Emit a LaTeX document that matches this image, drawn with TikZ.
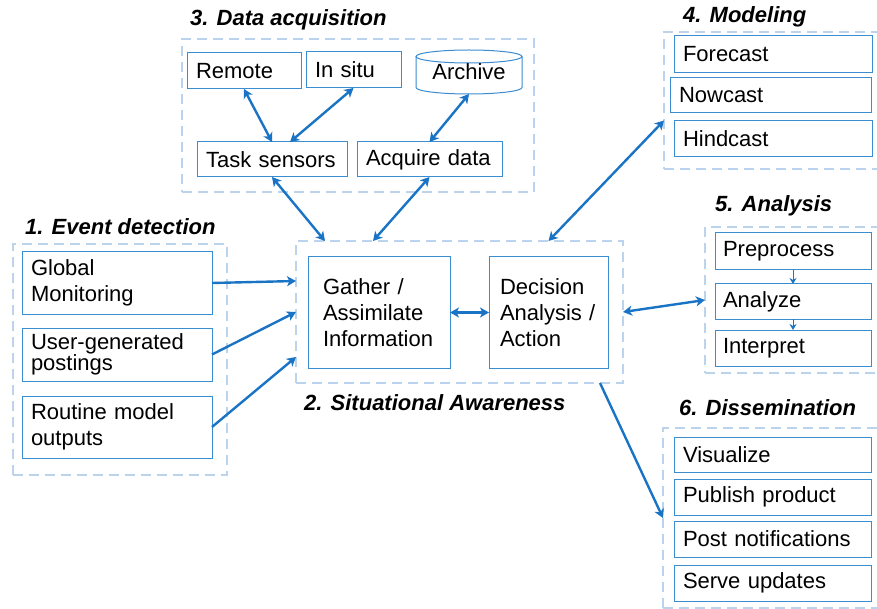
\documentclass[tikz,border=0pt]{standalone}
\usepackage{fontspec}
\setmainfont{Liberation Sans}
\usetikzlibrary{arrows.meta,calc}
\definecolor{arr}{HTML}{1A74C6}
\definecolor{bxc}{HTML}{3C8DD0}
\definecolor{dsh}{HTML}{BCD3EE}
\newcommand\mybox[7][9]{%
  \pgfmathsetmacro\mytw{#5-#3-2*#1}\pgfmathsetmacro\myh{#6-#4}%
  \node[bx, anchor=north west, inner xsep=#1pt, text width=\mytw pt, minimum height=\myh pt] (#2) at (#3,#4) {#7};}
\newcommand\mygrp[5]{%
  \pgfmathsetmacro\myw{#4-#2}\pgfmathsetmacro\myh{#5-#3}%
  \node[grp, anchor=north west, minimum width=\myw pt, minimum height=\myh pt] (#1) at (#2,#3) {};}
\begin{document}
\begin{tikzpicture}[x=1pt,y=-1pt,
  bx/.style={draw=bxc, line width=1pt, rectangle, inner ysep=0pt, outer sep=0pt, align=left,
    font=\fontsize{22}{26}\selectfont},
  grp/.style={draw=dsh, line width=2.2pt, dash pattern=on 10pt off 6pt, rectangle, inner sep=0pt, outer sep=0pt},
  ttl/.style={anchor=base west, inner sep=0pt, font=\fontsize{22}{26}\selectfont\bfseries\itshape},
  hd/.tip={Stealth[length=9pt,width=10pt,inset=2.5pt]},
  dbl/.style={draw=arr, line width=2.4pt, hd-hd},
  one/.style={draw=arr, line width=2.4pt, -hd},
  sml/.style={draw=arr, line width=1pt, -{Stealth[length=6pt,width=7pt]}}]
\clip (0,0) rectangle (877,609);
\fill[white] (0,0) rectangle (877,609);
% groups
\mygrp{g1}{13}{244}{227}{475}
\mygrp{g2}{296}{241}{623}{383}
\mygrp{g3}{182}{39}{534}{192}
\mygrp{g4}{664}{32}{880}{169}
\mygrp{g5}{705}{227}{880}{373}
\mygrp{g6}{663}{428}{880}{608}
% titles
\node[ttl] (t3) at (190,26) {3. Data acquisition};
\node[ttl] (t1) at (25,235) {1. Event detection};
\node[ttl] (t2) at (304,410) {2. Situational Awareness};
\node[ttl] (t4) at (683,23) {4. Modeling};
\node[ttl] (t5) at (715,212) {5. Analysis};
\node[ttl] (t6) at (679,415) {6. Dissemination};
% group 3
\mybox{remote}{187}{53}{301}{89}{Remote}
\mybox{insitu}{306}{52}{401}{88}{In situ}
\mybox{task}{197}{142}{347}{177}{Task sensors}
\mybox{acquire}{357}{142}{502}{177}{Acquire data}
\draw[bxc, line width=1pt] (469,56.5) ellipse [x radius=53, y radius=6.5];
\draw[bxc, line width=1pt] (416,56.5) -- (416,87.5) arc[start angle=180, end angle=0, x radius=53, y radius=6.5] -- (522,56.5);
\node[minimum width=106pt, minimum height=44pt, inner sep=0pt, outer sep=0pt, font=\fontsize{22}{26}\selectfont] (archive) at (469,72) {\raisebox{-4pt}{Archive}};
% group 1
\mybox{global}{22}{252}{212}{314}{Global\\Monitoring}
\mybox{user}{22}{328}{212}{381}{User-generated\\[-5pt]postings}
\mybox{routine}{22}{396}{212}{458}{Routine model\\outputs}
% group 2
\mybox[15]{gather}{308}{257}{450}{368}{Gather /\\Assimilate\\Information}
\mybox[11]{decision}{489}{257}{608}{368}{Decision\\Analysis /\\Action}
% group 4
\mybox{forecast}{674}{36}{872}{73}{Forecast}
\mybox{nowcast}{670}{78}{871}{113}{Nowcast}
\mybox{hindcast}{674}{121}{872}{157}{Hindcast}
% group 5
\mybox[8]{pre}{715}{233}{871}{270}{Preprocess}
\mybox[8]{ana}{715}{284}{871}{319}{Analyze}
\mybox[8]{interp}{715}{330}{871}{366}{Interpret}
% group 6
\mybox{vis}{674}{437}{871}{472}{Visualize}
\mybox{pub}{674}{479}{871}{515}{Publish product}
\mybox{post}{674}{521}{871}{557}{Post notifications}
\mybox{serve}{674}{565}{871}{601}{Serve updates}
% connectors
\draw[dbl] (remote.south) -- (task.north);
\draw[dbl] (insitu.south) -- ($(task.north)+(18,0)$);
\draw[dbl] (archive.south) -- (acquire.north);
\draw[dbl] (task.south) -- ($(g2.north west)+(29,0)$);
\draw[dbl] (acquire.south) -- ($(g2.north west)+(77,0)$);
\draw[one] (global.east) -- ($(g2.west)+(0,-31)$);
\draw[one] (user.east) -- (g2.west);
\draw[one] (routine.east) -- ($(g2.west)+(0,45)$);
\draw[dbl] (gather.east) -- (decision.west);
\draw[dbl] (decision.north |- g2.north) -- ($(g4.west)+(0,20)$);
\draw[dbl] (g2.east) -- (g5.west);
\draw[one] ($(g2.south east)+(-23,0)$) -- (g6.west);
\draw[sml] (pre.south) -- (ana.north);
\draw[sml] (ana.south) -- (interp.north);
\end{tikzpicture}
\end{document}
